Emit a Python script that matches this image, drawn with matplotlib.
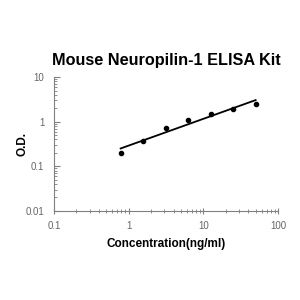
import numpy as np
import matplotlib
matplotlib.use("Agg")
import matplotlib.pyplot as plt
from matplotlib.ticker import NullFormatter, LogLocator

conc = [0.78, 1.56, 3.125, 6.25, 12.5, 25, 50]
od = [0.195, 0.374, 0.71, 1.07, 1.50, 1.88, 2.52]
xticks = [0.1, 1, 10, 100]
xticklabels = ["0.1", "1", "10", "100"]
yticks = [0.01, 0.1, 1, 10]
yticklabels = ["0.01", "0.1", "1", "10"]

plt.rcParams['font.family'] = ['Liberation Sans', 'DejaVu Sans']

fig = plt.figure(figsize=(3, 3), dpi=100)
ax = fig.add_axes([0.18, 0.297, 0.747, 0.446])

# power-law trendline fitted on log-log scale
lx = np.log10(conc)
ly = np.log10(od)
b, a = np.polyfit(lx, ly, 1)
xl = np.array([min(conc), max(conc)])
ax.plot(xl, 10 ** (a + b * np.log10(xl)), color='black', lw=1.3, zorder=2)
ax.scatter(conc, od, s=9, color='black', zorder=3)

ax.set_xscale('log')
ax.set_yscale('log')
ax.set_xlim(0.1, 100)
ax.set_ylim(0.01, 10)
ax.set_xticks(xticks)
ax.set_xticklabels(xticklabels)
ax.set_yticks(yticks)
ax.set_yticklabels(yticklabels)
ax.xaxis.set_minor_locator(LogLocator(base=10, subs=np.arange(2, 10)))
ax.yaxis.set_minor_locator(LogLocator(base=10, subs=np.arange(2, 10)))
ax.xaxis.set_minor_formatter(NullFormatter())
ax.yaxis.set_minor_formatter(NullFormatter())

for s in ['top', 'right']:
    ax.spines[s].set_visible(False)
for s in ['left', 'bottom']:
    ax.spines[s].set_color('#808080')
    ax.spines[s].set_linewidth(0.8)

ax.tick_params(axis='x', which='major', direction='inout', length=4, color='#808080', labelsize=7, labelcolor='#666666', pad=5)
ax.tick_params(axis='x', which='minor', direction='inout', length=3, color='#808080')
ax.tick_params(axis='y', which='major', direction='in', length=4, color='#808080', labelsize=7, labelcolor='#666666', pad=7)
ax.tick_params(axis='y', which='minor', direction='in', length=2.5, color='#808080')

ax.set_xlabel('Concentration(ng/ml)', fontsize=8.5, fontweight='bold', labelpad=5)
ax.set_ylabel('O.D.', fontsize=8.5, fontweight='bold', labelpad=-2)
ax.set_title('Mouse Neuropilin-1 ELISA Kit', fontsize=11.7, fontweight='bold', pad=9)

fig.savefig('out.png', dpi=100)
